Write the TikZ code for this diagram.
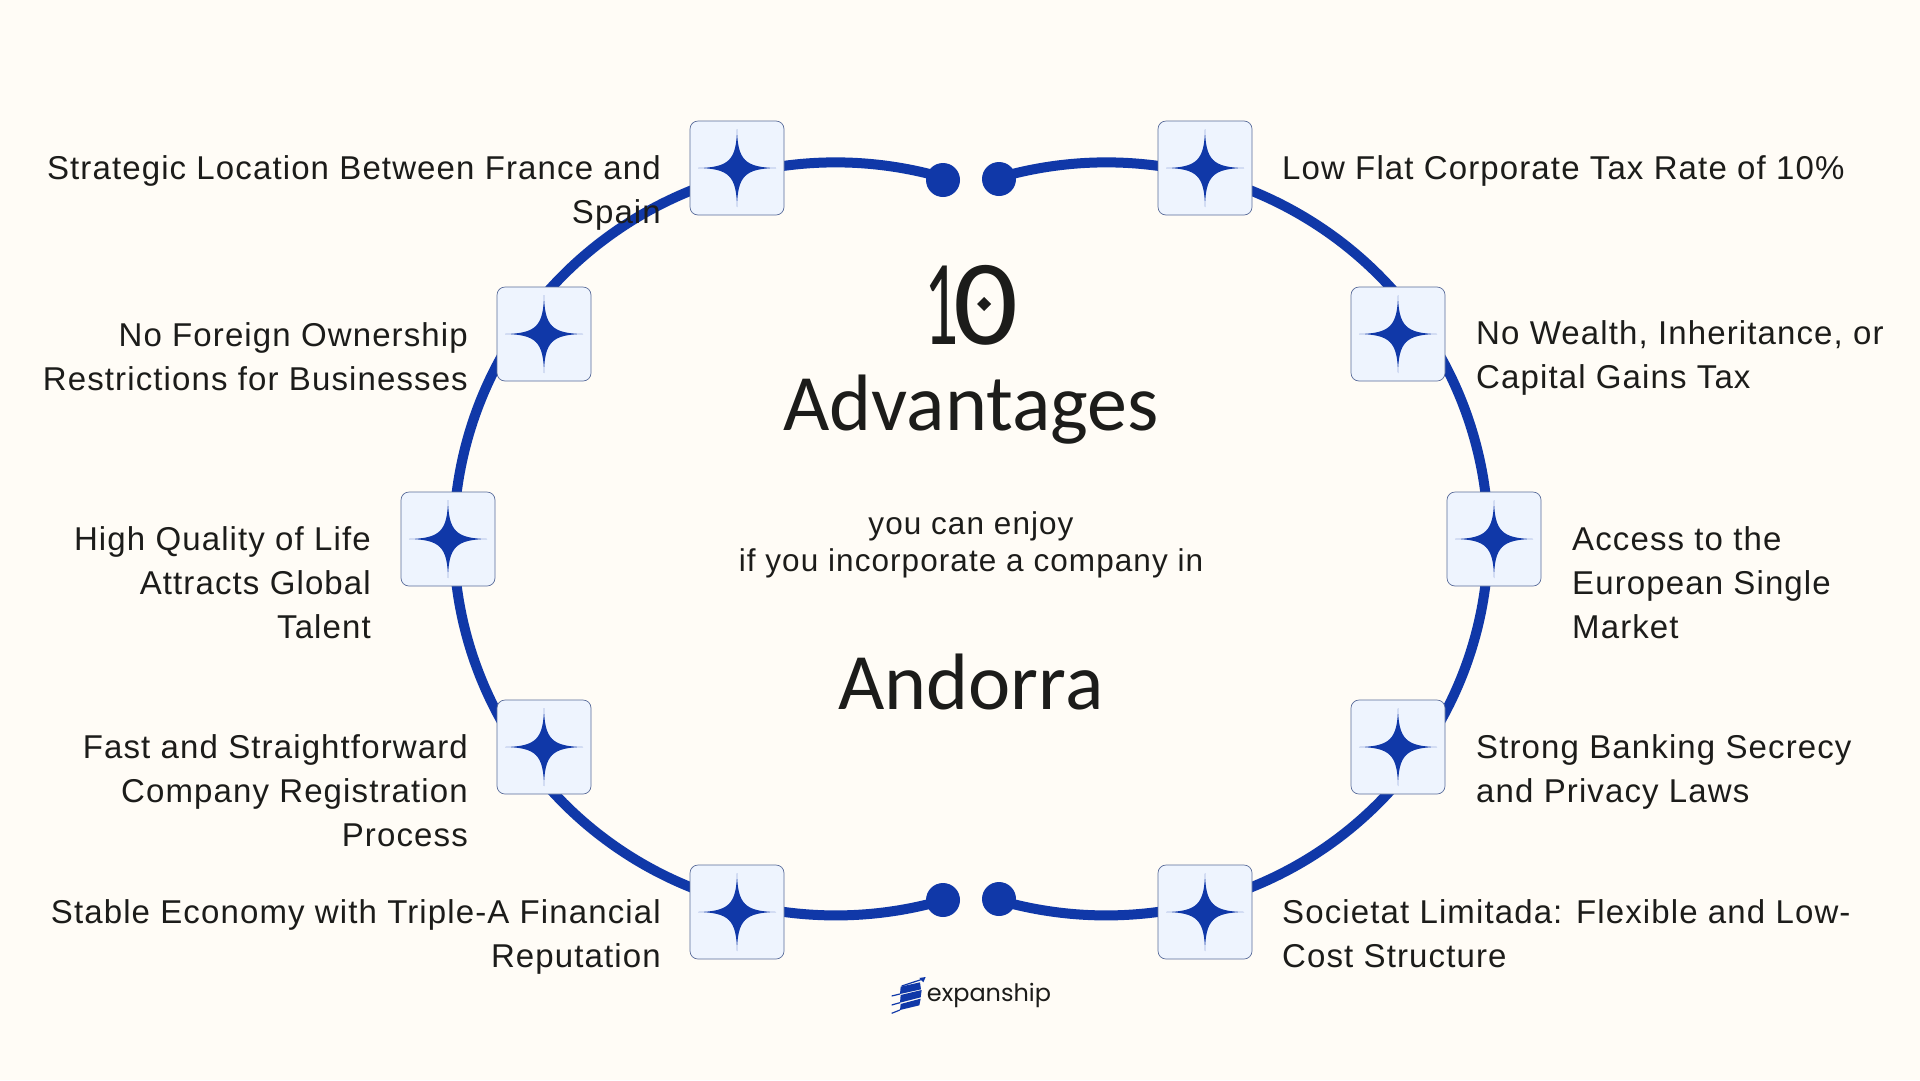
\documentclass[tikz,border=0pt]{standalone}
\usepackage{fontspec}
\usepackage{graphicx}
\setmainfont{Liberation Sans}[LetterSpace=3.4]
\newfontfamily\titlefont{Carlito}
\newfontfamily\logofont{Poppins}
\definecolor{paper}{HTML}{FFFCF6}
\definecolor{ringblue}{HTML}{1038A8}
\definecolor{boxfill}{HTML}{EEF4FE}
\definecolor{boxedge}{HTML}{5A6C9A}
\definecolor{ink}{HTML}{1C1C1A}
\tikzset{
  ring/.style={draw=ringblue,line width=10pt},
  dotmark/.style={circle,fill=ringblue,minimum size=34pt,inner sep=0pt},
  tile/.style={draw=boxedge,line width=0.7pt,fill=boxfill,rounded corners=8pt,minimum size=94pt,inner sep=0pt},
  lbl/.style={inner sep=0pt,text=ink,font=\fontsize{33}{44}\selectfont},
  lblL/.style={lbl,anchor=north east,align=right},
  lblR/.style={lbl,anchor=north west,align=left},
  sub/.style={inner sep=0pt,text=ink,font=\fontsize{31.5}{37}\selectfont,align=center},
  big/.style={inner sep=0pt,text=ink,font=\titlefont\fontsize{80}{80}\selectfont},
  sparkle/.pic={\fill[ringblue] (0,-39) .. controls (0.6,-8) and (8,-0.6) .. (39,0)
     .. controls (8,0.6) and (0.6,8) .. (0,39)
     .. controls (-0.6,8) and (-8,0.6) .. (-39,0)
     .. controls (-8,-0.6) and (-0.6,-8) .. (0,-39) -- cycle;}
}
\newcommand{\tilemark}[3]{\node[tile] (#1) at (#2,#3) {}; \pic at (#1.center) {sparkle};}
\begin{document}
\begin{tikzpicture}[x=1pt,y=-1pt]
\fill[paper] (0,0) rectangle (1920,1080);
\useasboundingbox (0,0) rectangle (1920,1080);
% ring
\node[dotmark] (dTL) at (943,180) {};
\node[dotmark] (dTR) at (999,179) {};
\node[dotmark] (dBL) at (943,900) {};
\node[dotmark] (dBR) at (999,899) {};
\coordinate (startL) at (943,177.6);
\coordinate (startR) at (999,177.6);
\draw[ring] (startL) arc[start angle=-73.7,end angle=-286.3,x radius=382,y radius=376.5];
\draw[ring] (startR) arc[start angle=-106.3,end angle=106.3,x radius=382,y radius=376.5];
% tiles
\tilemark{t1}{737}{168}
\tilemark{t2}{1205}{168}
\tilemark{t3}{544}{334}
\tilemark{t4}{1398}{334}
\tilemark{t5}{448}{539}
\tilemark{t6}{1494}{539}
\tilemark{t7}{544}{747}
\tilemark{t8}{1398}{747}
\tilemark{t9}{737}{912}
\tilemark{t10}{1205}{912}
% labels left
\node[lblL] (a1) at (661,148) {\strut Strategic Location Between France and\\Spain};
\node[lblL] (a2) at (468,315) {\strut No Foreign Ownership\\Restrictions for Businesses};
\node[lblL] (a3) at (371,519) {\strut High Quality of Life\\Attracts Global\\Talent};
\node[lblL] (a4) at (468,727) {\strut Fast and Straightforward\\Company Registration\\Process};
\node[lblL] (a5) at (661,892) {\strut Stable Economy with Triple-A Financial\\Reputation};
% labels right
\node[lblR] (b1) at (1282,148) {\strut Low Flat Corporate Tax Rate of 10\%};
\node[lblR] (b2) at (1476,313) {\strut No Wealth, Inheritance, or\\Capital Gains Tax};
\node[lblR] (b3) at (1572,519) {\strut Access to the\\European Single\\Market};
\node[lblR] (b4) at (1476,727) {\strut Strong Banking Secrecy\\and Privacy Laws};
\node[lblR] (b5) at (1282,892) {\strut Societat Limitada: Flexible and Low-\\Cost Structure};
% centre
\node[big] (ten) at (971,305) {\titlefont\fontsize{122}{122}\selectfont\scalebox{.55}[1]{1}\kern-5pt\scalebox{1.05}[1]{0}};
\fill[ink] (984,297) -- (991,304) -- (984,311) -- (977,304) -- cycle;
\node[big] (adv) at (971,410) {Advantages};
\node[sub] (enjoy) at (971,544.5) {you can enjoy\\if you incorporate a company in};
\node[big] (and) at (971,682) {Andorra};
% logo
\begin{scope}[shift={(860,860)},x=0.3333pt,y=-0.3333pt]
\fill[ringblue] (122,380) -- (180,367) -- (183,388) -- (120,402) -- cycle;
\fill[ringblue] (122,405) -- (185,390) -- (182,412) -- (120,428) -- cycle;
\fill[ringblue] (122,432) -- (182,416) -- (178,436) -- (120,450) -- cycle;
\draw[ringblue,line width=1.2pt] (95,408) -- (120,402) (95,435) -- (120,428) (95,460) -- (120,450) (125,378) -- (192,356);
\fill[ringblue] (197,351) -- (190,367) -- (178,354) -- cycle;
\end{scope}
\node[inner sep=0pt,text=ink,anchor=base,font=\logofont\fontsize{24}{24}\selectfont] (logo) at (989,1001) {expanship};
\end{tikzpicture}
\end{document}
